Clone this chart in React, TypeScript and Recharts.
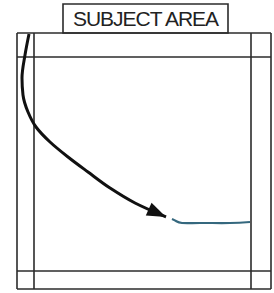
import React from 'react';
import { ComposedChart, Line, XAxis, YAxis, ReferenceLine, ReferenceArea, Label } from 'recharts';

// diagram units = pixels of the 274x293 sheet, y grows downward
const frameX = [17, 34, 251, 271];
const frameY = [33, 57, 271, 289];
const titleBox = { x1: 63, x2: 228, y1: 4, y2: 33 };

const curveX = [29, 25, 22, 23, 28, 36, 50, 68, 88, 110, 135, 166];
const curveY = [34, 55, 78, 95, 112, 127, 142, 157, 172, 188, 203, 217];

const flatX = [172, 176, 182, 200, 230, 250];
const flatY = [219, 221, 223, 223, 223, 222];

const curve = curveX.map((x, i) => ({ x, y: curveY[i] }));
const flat = flatX.map((x, i) => ({ x, y: flatY[i] }));

const ink = '#2b2b2b';

const ArrowDot = (props: any) => {
  const { cx, cy, index } = props;
  if (index !== curve.length - 1) return <g key={`d${index}`} />;
  const a = curve[index - 1];
  const b = curve[index];
  const deg = (Math.atan2(b.y - a.y, b.x - a.x) * 180) / Math.PI;
  return (
    <path
      key="arrow"
      d="M0,0 L-19,-7 L-19,7 Z"
      fill="#111"
      transform={`translate(${cx},${cy}) rotate(${deg})`}
    />
  );
};

export default function App() {
  return (
    <div style={{ position: 'absolute', left: 0, top: 0, background: '#fff' }}>
      <ComposedChart width={274} height={293} margin={{ top: 0, right: 0, bottom: 0, left: 0 }}>
        <XAxis type="number" dataKey="x" domain={[0, 274]} hide allowDataOverflow />
        <YAxis type="number" dataKey="y" domain={[0, 293]} reversed hide allowDataOverflow />
        {frameX.map((x) => (
          <ReferenceLine
            key={`vx${x}`}
            segment={[{ x, y: frameY[0] }, { x, y: frameY[3] }]}
            stroke={ink}
            strokeWidth={1.6}
          />
        ))}
        {frameY.map((y) => (
          <ReferenceLine
            key={`hy${y}`}
            segment={[{ x: frameX[0], y }, { x: frameX[3], y }]}
            stroke={ink}
            strokeWidth={1.6}
          />
        ))}
        <ReferenceArea
          x1={titleBox.x1}
          x2={titleBox.x2}
          y1={titleBox.y1}
          y2={titleBox.y2}
          fill="#fff"
          fillOpacity={1}
          stroke={ink}
          strokeWidth={1.6}
        >
          <Label
            value="SUBJECT AREA"
            position="center"
            fill="#222"
            fontSize={21}
            fontFamily="Liberation Sans, Arial, sans-serif"
            letterSpacing={-1}
          />
        </ReferenceArea>
        <Line
          data={curve}
          dataKey="y"
          type="monotoneY"
          stroke="#111"
          strokeWidth={3}
          dot={ArrowDot}
          activeDot={false}
          isAnimationActive={false}
        />
        <Line
          data={flat}
          dataKey="y"
          type="natural"
          stroke="#35687e"
          strokeWidth={2.2}
          dot={false}
          activeDot={false}
          isAnimationActive={false}
        />
      </ComposedChart>
    </div>
  );
}
